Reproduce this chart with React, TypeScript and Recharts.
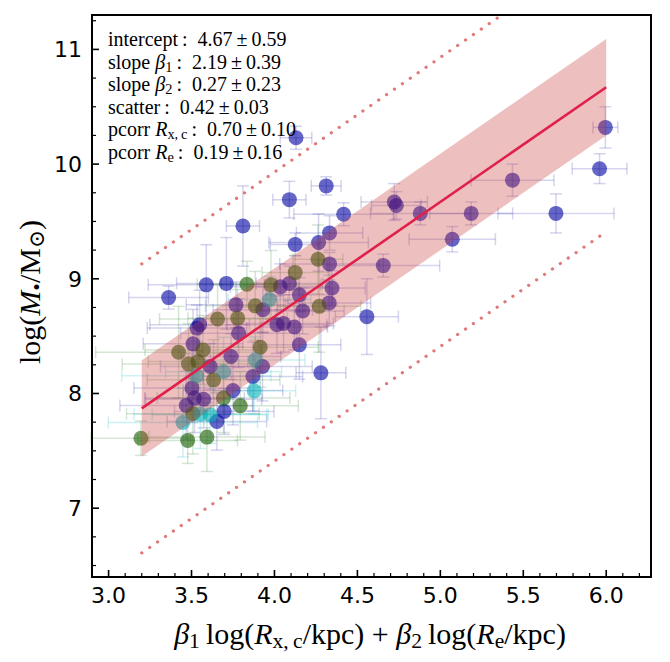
import React from 'react';
import { ComposedChart, Scatter, Line, Area, XAxis, YAxis, ErrorBar } from 'recharts';

// ---- data ----
const blueX = [5.995, 5.96, 5.435, 5.697, 5.186, 4.879, 4.722, 4.735, 5.072, 4.557, 4.656, 4.13, 4.09, 4.312, 4.417, 4.125, 4.332, 4.266, 4.09, 4.332, 4.347, 4.33, 4.15, 4.17, 4.12, 4.055, 4.15, 4.28, 3.81, 3.362, 3.589, 3.71, 4.035, 3.93, 3.768, 3.549, 3.533, 3.784, 4.015, 3.509, 3.613, 3.738, 3.928, 3.87, 3.503, 3.75, 3.573, 3.518, 3.468, 3.697, 3.653];
const blueY = [10.32, 9.96, 9.86, 9.57, 9.57, 9.57, 9.67, 9.64, 9.345, 8.67, 9.115, 10.23, 9.69, 9.81, 9.563, 9.3, 9.4, 9.316, 8.96, 9.13, 8.92, 8.79, 8.86, 8.72, 8.58, 8.61, 8.424, 8.18, 9.46, 8.836, 8.947, 8.96, 8.93, 8.73, 8.773, 8.6, 8.57, 8.526, 8.6, 8.433, 8.235, 8.322, 8.235, 8.148, 8.047, 8.026, 7.95, 7.96, 7.895, 7.843, 7.756];
const blueXErr = [0.075, 0.165, 0.25, 0.35, 0.25, 0.3, 0.2, 0.15, 0.26, 0.19, 0.34, 0.095, 0.1, 0.09, 0.3, 0.15, 0.2, 0.3, 0.2, 0.3, 0.2, 0.25, 0.2, 0.25, 0.2, 0.3, 0.25, 0.15, 0.1, 0.24, 0.35, 0.3, 0.3, 0.3, 0.3, 0.3, 0.3, 0.35, 0.3, 0.3, 0.3, 0.3, 0.3, 0.3, 0.35, 0.3, 0.35, 0.3, 0.4, 0.3, 0.3];
const blueYErr = [0.18, 0.13, 0.14, 0.17, 0.1, 0.1, 0.16, 0.12, 0.11, 0.33, 0.1, 0.1, 0.16, 0.08, 0.1, 0.1, 0.15, 0.25, 0.15, 0.1, 0.15, 0.2, 0.15, 0.2, 0.2, 0.25, 0.3, 0.4, 0.35, 0.1, 0.35, 0.4, 0.2, 0.2, 0.2, 0.3, 0.2, 0.3, 0.25, 0.3, 0.2, 0.2, 0.3, 0.3, 0.3, 0.3, 0.25, 0.3, 0.3, 0.2, 0.25];

const greenX = [4.262, 4.125, 4.27, 3.834, 3.979, 3.884, 3.657, 3.778, 3.422, 3.569, 3.914, 3.482, 3.539, 3.633, 3.693, 3.794, 3.508, 3.195, 3.477, 3.593];
const greenY = [9.17, 9.054, 8.76, 8.953, 8.947, 8.764, 8.65, 8.657, 8.36, 8.38, 8.404, 8.258, 8.279, 8.119, 7.96, 7.893, 7.823, 7.61, 7.59, 7.62];
const greenXErr = [0.15, 0.2, 0.25, 0.3, 0.3, 0.3, 0.35, 0.3, 0.5, 0.35, 0.35, 0.4, 0.3, 0.4, 0.4, 0.35, 0.4, 0.3, 0.3, 0.35];
const greenYErr = [0.3, 0.15, 0.4, 0.2, 0.3, 0.3, 0.3, 0.25, 0.4, 0.3, 0.35, 0.35, 0.3, 0.35, 0.3, 0.3, 0.35, 0.15, 0.2, 0.3];

const cyanX = [3.97, 3.693, 3.884, 3.529, 3.878, 3.553, 3.613, 3.448];
const cyanY = [8.82, 8.19, 8.293, 8.154, 8.023, 7.82, 7.814, 7.747];
const cyanXErr = [0.25, 0.35, 0.3, 0.45, 0.25, 0.4, 0.35, 0.45];
const cyanYErr = [0.2, 0.3, 0.2, 0.3, 0.2, 0.3, 0.25, 0.3];

// fit line, scatter band and 3-sigma lines at the two ends
const fitX = [3.2, 6.0];
const fitY = [7.87, 10.67];
const bandLow = [7.45, 10.25];
const bandHigh = [8.29, 11.09];
const outerLow = [6.61, 9.41];
const outerHigh = [9.13, 11.93];

const statNames = ['intercept', 'slope β1', 'slope β2', 'scatter', 'pcorr Rxc', 'pcorr Re'];
const statValues = ['4.67', '2.19', '0.27', '0.42', '0.70', '0.19'];
const statErrors = ['0.59', '0.39', '0.23', '0.03', '0.10', '0.16'];

const xMajorTicks = [3.0, 3.5, 4.0, 4.5, 5.0, 5.5, 6.0];
const yMajorTicks = [7, 8, 9, 10, 11];
const X_DOMAIN: [number, number] = [2.9, 6.27];
const Y_DOMAIN: [number, number] = [6.4, 11.3];

// minor ticks
const xAllTicks: number[] = [];
for (let i = 30; i <= 62; i++) xAllTicks.push(i / 10);
const yAllTicks: number[] = [];
for (let i = 26; i <= 45; i++) yAllTicks.push(i / 4);

const mk = (xs: number[], ys: number[], xe: number[], ye: number[]) =>
  xs.map((x, i) => ({ x, y: ys[i], xe: xe[i], ye: ye[i] }));
const blueData = mk(blueX, blueY, blueXErr, blueYErr);
const greenData = mk(greenX, greenY, greenXErr, greenYErr);
const cyanData = mk(cyanX, cyanY, cyanXErr, cyanYErr);
const fitData = fitX.map((x, i) => ({ x, y: fitY[i] }));
const bandData = fitX.map((x, i) => ({ x, band: [bandLow[i], bandHigh[i]] }));
const upData = fitX.map((x, i) => ({ x, y: outerHigh[i] }));
const loData = fitX.map((x, i) => ({ x, y: outerLow[i] }));

const isMajorX = (v: number) => xMajorTicks.some((t) => Math.abs(t - v) < 1e-6);
const isMajorY = (v: number) => yMajorTicks.some((t) => Math.abs(t - v) < 1e-6);

const XTick = (props: any) => {
  const { x, y, payload } = props;
  const major = isMajorX(payload.value);
  return (
    <g>
      <line x1={x} x2={x} y1={y} y2={y - (major ? 7 : 4)} stroke="#000" strokeWidth={major ? 1.6 : 1.2} />
      {major && (
        <text x={x} y={y + 26} textAnchor="middle" fontSize={22} fontFamily="DejaVu Sans" fill="#000">
          {payload.value.toFixed(1)}
        </text>
      )}
    </g>
  );
};

const YTick = (props: any) => {
  const { x, y, payload } = props;
  const major = isMajorY(payload.value);
  return (
    <g>
      <line x1={x} x2={x + (major ? 7 : 4)} y1={y} y2={y} stroke="#000" strokeWidth={major ? 1.6 : 1.2} />
      {major && (
        <text x={x - 10} y={y + 8} textAnchor="end" fontSize={22} fontFamily="DejaVu Sans" fill="#000">
          {String(payload.value)}
        </text>
      )}
    </g>
  );
};

const dot = (fill: string, op: number) => (p: any) => (
  <circle cx={p.cx} cy={p.cy} r={7.5} fill={fill} fillOpacity={op} />
);

const serif = '"Liberation Serif", "DejaVu Serif", serif';
const subStyle: React.CSSProperties = { fontSize: '0.72em', verticalAlign: '-0.2em', lineHeight: 0 };

const statLabel = (name: string) => {
  if (name === 'slope β1') return (<>slope <i>β</i><span style={subStyle}>1</span></>);
  if (name === 'slope β2') return (<>slope <i>β</i><span style={subStyle}>2</span></>);
  if (name === 'pcorr Rxc') return (<>pcorr <i>R</i><span style={subStyle}>x,&#8201;c</span></>);
  if (name === 'pcorr Re') return (<>pcorr <i>R</i><span style={subStyle}>e</span></>);
  return <>{name}</>;
};

const CHART_W = 670;
const CHART_H = 662;
const MARGIN = { top: 15, right: 19, left: 0, bottom: 0 };

export default function App() {
  return (
    <div style={{ position: 'absolute', left: 0, top: 0, width: CHART_W, height: CHART_H, background: '#fff' }}>
      {/* base chart: axes, error bars and points */}
      <div style={{ position: 'absolute', left: 0, top: 0 }}>
        <ComposedChart width={CHART_W} height={CHART_H} margin={MARGIN}>
          <XAxis
            type="number"
            dataKey="x"
            domain={X_DOMAIN}
            allowDataOverflow
            ticks={xAllTicks}
            interval={0}
            tick={<XTick />}
            tickLine={false}
            axisLine={false}
            tickSize={0}
            tickMargin={0}
            height={85}
          />
          <YAxis
            type="number"
            domain={Y_DOMAIN}
            allowDataOverflow
            ticks={yAllTicks}
            interval={0}
            tick={<YTick />}
            tickLine={false}
            axisLine={false}
            tickSize={0}
            tickMargin={0}
            width={92}
          />
          <Scatter data={blueData} dataKey="y" shape={dot('#0000a0', 0.6)} isAnimationActive={false}>
            <ErrorBar dataKey="xe" direction="x" width={6} strokeWidth={1.5} stroke="rgba(40,40,170,0.2)" />
            <ErrorBar dataKey="ye" direction="y" width={6} strokeWidth={1.5} stroke="rgba(40,40,170,0.2)" />
          </Scatter>
          <Scatter data={greenData} dataKey="y" shape={dot('#1a5e00', 0.62)} isAnimationActive={false}>
            <ErrorBar dataKey="xe" direction="x" width={6} strokeWidth={1.5} stroke="rgba(40,130,40,0.2)" />
            <ErrorBar dataKey="ye" direction="y" width={6} strokeWidth={1.5} stroke="rgba(40,130,40,0.2)" />
          </Scatter>
          <Scatter data={cyanData} dataKey="y" shape={dot('#00b0b8', 0.6)} isAnimationActive={false}>
            <ErrorBar dataKey="xe" direction="x" width={6} strokeWidth={1.5} stroke="rgba(30,190,200,0.22)" />
            <ErrorBar dataKey="ye" direction="y" width={6} strokeWidth={1.5} stroke="rgba(30,190,200,0.22)" />
          </Scatter>
        </ComposedChart>
      </div>

      {/* overlay chart: band and fit lines drawn above the points */}
      <div style={{ position: 'absolute', left: 0, top: 0, pointerEvents: 'none' }}>
        <ComposedChart width={CHART_W} height={CHART_H} margin={MARGIN}>
          <XAxis type="number" dataKey="x" domain={X_DOMAIN} allowDataOverflow tick={false} tickLine={false} axisLine={false} height={85} />
          <YAxis type="number" domain={Y_DOMAIN} allowDataOverflow tick={false} tickLine={false} axisLine={false} width={92} />
          <Area
            data={bandData}
            dataKey="band"
            type="linear"
            stroke="none"
            fill="#c83c3c"
            fillOpacity={0.33}
            isAnimationActive={false}
            dot={false}
            activeDot={false}
          />
          <Line data={upData} dataKey="y" type="linear" stroke="#e07a7a" strokeWidth={3.2} strokeDasharray="0.1 9.5" strokeLinecap="round" dot={false} activeDot={false} isAnimationActive={false} />
          <Line data={loData} dataKey="y" type="linear" stroke="#e07a7a" strokeWidth={3.2} strokeDasharray="0.1 9.5" strokeLinecap="round" dot={false} activeDot={false} isAnimationActive={false} />
          <Line data={fitData} dataKey="y" type="linear" stroke="#e0204a" strokeWidth={2.6} dot={false} activeDot={false} isAnimationActive={false} />
        </ComposedChart>
      </div>

      {/* frame */}
      <div style={{ position: 'absolute', left: 91, top: 14, width: 561, height: 564, border: '2px solid #000', boxSizing: 'border-box', pointerEvents: 'none' }} />

      {/* stats */}
      <div style={{ position: 'absolute', left: 108, top: 28, fontFamily: serif, fontSize: 20, lineHeight: '22.5px', color: '#000', whiteSpace: 'nowrap' }}>
        {statNames.map((n, i) => (
          <div key={n}>
            {statLabel(n)}<span>&#8201;:&nbsp; {statValues[i]}&#8201;±&#8201;{statErrors[i]}</span>
          </div>
        ))}
      </div>

      {/* x title */}
      <div style={{ position: 'absolute', left: 370, top: 634, transform: 'translate(-50%, -50%)', fontFamily: serif, fontSize: 30, whiteSpace: 'nowrap', color: '#000' }}>
        <i>β</i><span style={subStyle}>1</span>&#8201;log(<i>R</i><span style={subStyle}>x,&#8201;c</span>/kpc)&nbsp;+&nbsp;<i>β</i><span style={subStyle}>2</span>&#8201;log(<i>R</i><span style={subStyle}>e</span>/kpc)
      </div>

      {/* y title */}
      <div style={{ position: 'absolute', left: 30, top: 292, transform: 'translate(-50%, -50%) rotate(-90deg)', fontFamily: serif, fontSize: 30, whiteSpace: 'nowrap', color: '#000' }}>
        log(<i>M</i><span style={subStyle}>•</span>/M<span style={subStyle}>⊙</span>)
      </div>
    </div>
  );
}
